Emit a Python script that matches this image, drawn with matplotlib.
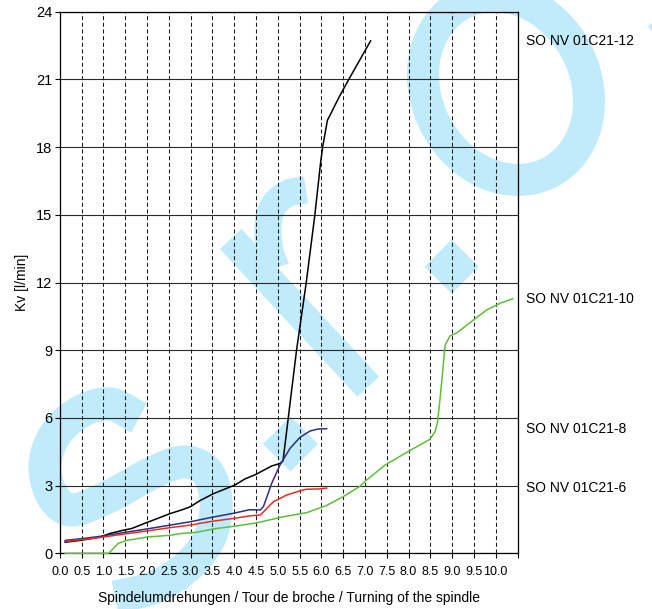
import numpy as np
import matplotlib
matplotlib.use("Agg")
import matplotlib.pyplot as plt
from matplotlib import font_manager
from matplotlib.patches import Ellipse, Polygon
import matplotlib.transforms as mtransforms

plt.rcParams['lines.scale_dashes'] = False

# Spindle turns (x) and flow coefficient Kv in l/min (y) for each valve size
turns_12 = [0.12, 0.5, 0.92, 1.15, 1.45, 1.65, 1.99, 2.14, 2.53, 2.79, 2.99, 3.21, 3.52,
            3.83, 4.02, 4.25, 4.48, 4.86, 5.05, 5.12, 5.24, 5.43, 5.65, 5.85, 5.98, 6.03,
            6.14, 6.18, 6.41, 6.62, 7.13]
kv_12 = [0.49, 0.58, 0.72, 0.88, 1.02, 1.1, 1.36, 1.47, 1.76, 1.92, 2.06, 2.33, 2.64,
         2.88, 3.03, 3.3, 3.48, 3.87, 3.98, 4.1, 6.0, 9.0, 11.96, 14.99, 17.28, 18.02,
         19.2, 19.34, 20.23, 20.97, 22.71]

turns_10 = [0.12, 1.12, 1.34, 1.53, 2.0, 2.53, 2.79, 3.14, 3.52, 4.0, 4.52, 5.13, 5.66,
            6.12, 6.5, 6.87, 7.04, 7.46, 8.0, 8.49, 8.61, 8.66, 8.72, 8.76, 8.84, 8.95,
            9.11, 9.49, 9.79, 10.1, 10.39]
kv_10 = [0.0, 0.0, 0.44, 0.57, 0.72, 0.8, 0.88, 0.93, 1.08, 1.2, 1.35, 1.62, 1.8,
         2.12, 2.51, 2.95, 3.25, 3.91, 4.52, 5.05, 5.39, 5.76, 6.79, 7.6, 9.23, 9.63,
         9.77, 10.34, 10.78, 11.08, 11.28]

turns_8 = [0.12, 0.5, 0.92, 1.5, 2.0, 2.5, 3.0, 3.5, 4.0, 4.35, 4.6, 4.67, 4.86, 5.05,
           5.28, 5.51, 5.74, 5.93, 6.12]
kv_8 = [0.57, 0.65, 0.75, 0.93, 1.08, 1.24, 1.4, 1.6, 1.78, 1.93, 1.92, 2.07, 3.1, 3.91,
        4.65, 5.14, 5.42, 5.51, 5.52]

turns_6 = [0.12, 0.5, 0.92, 1.5, 2.0, 2.5, 3.0, 3.22, 3.5, 4.0, 4.36, 4.6, 4.75, 4.9,
           5.2, 5.51, 5.66, 5.93, 6.12]
kv_6 = [0.52, 0.61, 0.7, 0.86, 0.99, 1.13, 1.25, 1.33, 1.42, 1.55, 1.66, 1.7, 1.99, 2.29,
        2.58, 2.77, 2.84, 2.85, 2.89]

series_names = ["SO NV 01C21-12", "SO NV 01C21-10", "SO NV 01C21-8", "SO NV 01C21-6"]
series_colors = ["#000000", "#5cbf3a", "#2e2e82", "#f02a22"]

x_ticks = np.arange(0, 10.51, 0.5)
x_tick_labels = [f"{v:.1f}" if v <= 10.0 else "" for v in x_ticks]
y_ticks = list(range(0, 25, 3))

x_title = "Spindelumdrehungen / Tour de broche / Turning of the spindle"
y_title = "Kv [l/min]"

available = {f.name for f in font_manager.fontManager.ttflist}
base_font = "Liberation Sans" if "Liberation Sans" in available else "DejaVu Sans"
narrow_font = "Liberation Sans Narrow" if "Liberation Sans Narrow" in available else base_font
plt.rcParams['font.family'] = [base_font, "DejaVu Sans"]

W, H = 652, 609
fig = plt.figure(figsize=(W / 100, H / 100), dpi=100)

# ---- background logo, drawn in pixel space ----
bg = fig.add_axes([0, 0, 1, 1], zorder=0)
bg.set_xlim(0, W)
bg.set_ylim(H, 0)
bg.axis("off")
logo = "#bfebfb"


def px_lw(px):
    return px * 72 / 100


def smooth(pts, n=14):
    p = np.asarray(pts, float)
    p = np.vstack([2 * p[0] - p[1], p, 2 * p[-1] - p[-2]])
    out = []
    t = np.linspace(0, 1, n, endpoint=False)[:, None]
    for i in range(1, len(p) - 2):
        p0, p1, p2, p3 = p[i - 1], p[i], p[i + 1], p[i + 2]
        seg = 0.5 * (2 * p1 + (-p0 + p2) * t + (2 * p0 - 5 * p1 + 4 * p2 - p3) * t ** 2
                     + (-p0 + 3 * p1 - 3 * p2 + p3) * t ** 3)
        out.append(seg)
    out.append(p[-2][None])
    return np.vstack(out)


s_stroke = smooth([(139, 418), (110, 404), (80, 412), (55, 435), (45, 465), (52, 495),
                   (72, 510), (110, 496), (150, 474), (183, 462), (207, 472), (216, 502),
                   (210, 537), (188, 566), (155, 587), (115, 597)])
bg.plot(s_stroke[:, 0], s_stroke[:, 1], color=logo, lw=px_lw(33),
        solid_capstyle="butt", solid_joinstyle="round")

bg.plot([230.7, 368.3], [239, 386.7], color=logo, lw=px_lw(29.5), solid_capstyle="butt")
hook = smooth([(306, 190), (289, 193), (274, 205), (268, 225), (270, 250), (276, 268)])
bg.plot(hook[:, 0], hook[:, 1], color=logo, lw=px_lw(27), solid_capstyle="butt")

for cx, cy, r in [(290.5, 444, 27.5), (451.7, 266.7, 27), (675, 27, 27)]:
    bg.add_patch(Polygon([(cx, cy - r), (cx + r, cy), (cx, cy + r), (cx - r, cy)],
                         closed=True, facecolor=logo, edgecolor="none"))

bg.add_patch(Ellipse((506, 88), 190, 159, angle=62.7, fill=False,
                     edgecolor=logo, lw=px_lw(32)))

# ---- chart ----
left, right, bottom, top = 59.9, 517.5, 553.3, 11.7
ax = fig.add_axes([left / W, (H - bottom) / H, (right - left) / W, (bottom - top) / H],
                  zorder=1)
ax.patch.set_alpha(0)
ax.set_xlim(0, 10.5)
ax.set_ylim(0, 24)

ax.set_xticks(x_ticks)
ax.set_xticklabels(x_tick_labels, fontfamily=narrow_font, fontsize=9)
ax.set_yticks(y_ticks)
ax.set_yticklabels([str(v) for v in y_ticks], fontsize=10.5)
ax.tick_params(axis="x", direction="out", length=3.5, width=0.8, pad=6)
ax.tick_params(axis="y", direction="out", length=3.5, width=0.8, pad=2)

ax.grid(axis="x", linestyle=(0, (2.9, 1.9)), color="#1a1a1a", lw=0.75)
ax.grid(axis="y", linestyle="-", color="#2a2a2a", lw=0.8)
for sp in ax.spines.values():
    sp.set_linewidth(0.9)
    sp.set_color("#000000")

all_x = [turns_12, turns_10, turns_8, turns_6]
all_y = [kv_12, kv_10, kv_8, kv_6]
label_tr = mtransforms.blended_transform_factory(ax.transAxes, ax.transData)
for xs, ys, name, col in zip(all_x, all_y, series_names, series_colors):
    ax.plot(xs, ys, color=col, lw=1.1, zorder=3, clip_on=False)
    ax.text((526 - left) / (right - left), ys[-1], name, transform=label_tr,
            ha="left", va="center", fontsize=10)

ax.set_xlabel(x_title, fontsize=10)
ax.set_ylabel(y_title, fontsize=10)
ax.xaxis.set_label_coords(0.5, (bottom - 598) / (bottom - top))
ax.xaxis.label.set_va("center")
ax.yaxis.set_label_coords((21.7 - left) / (right - left), 0.5)
ax.yaxis.label.set_va("center")

fig.savefig("out.png", dpi=100)
